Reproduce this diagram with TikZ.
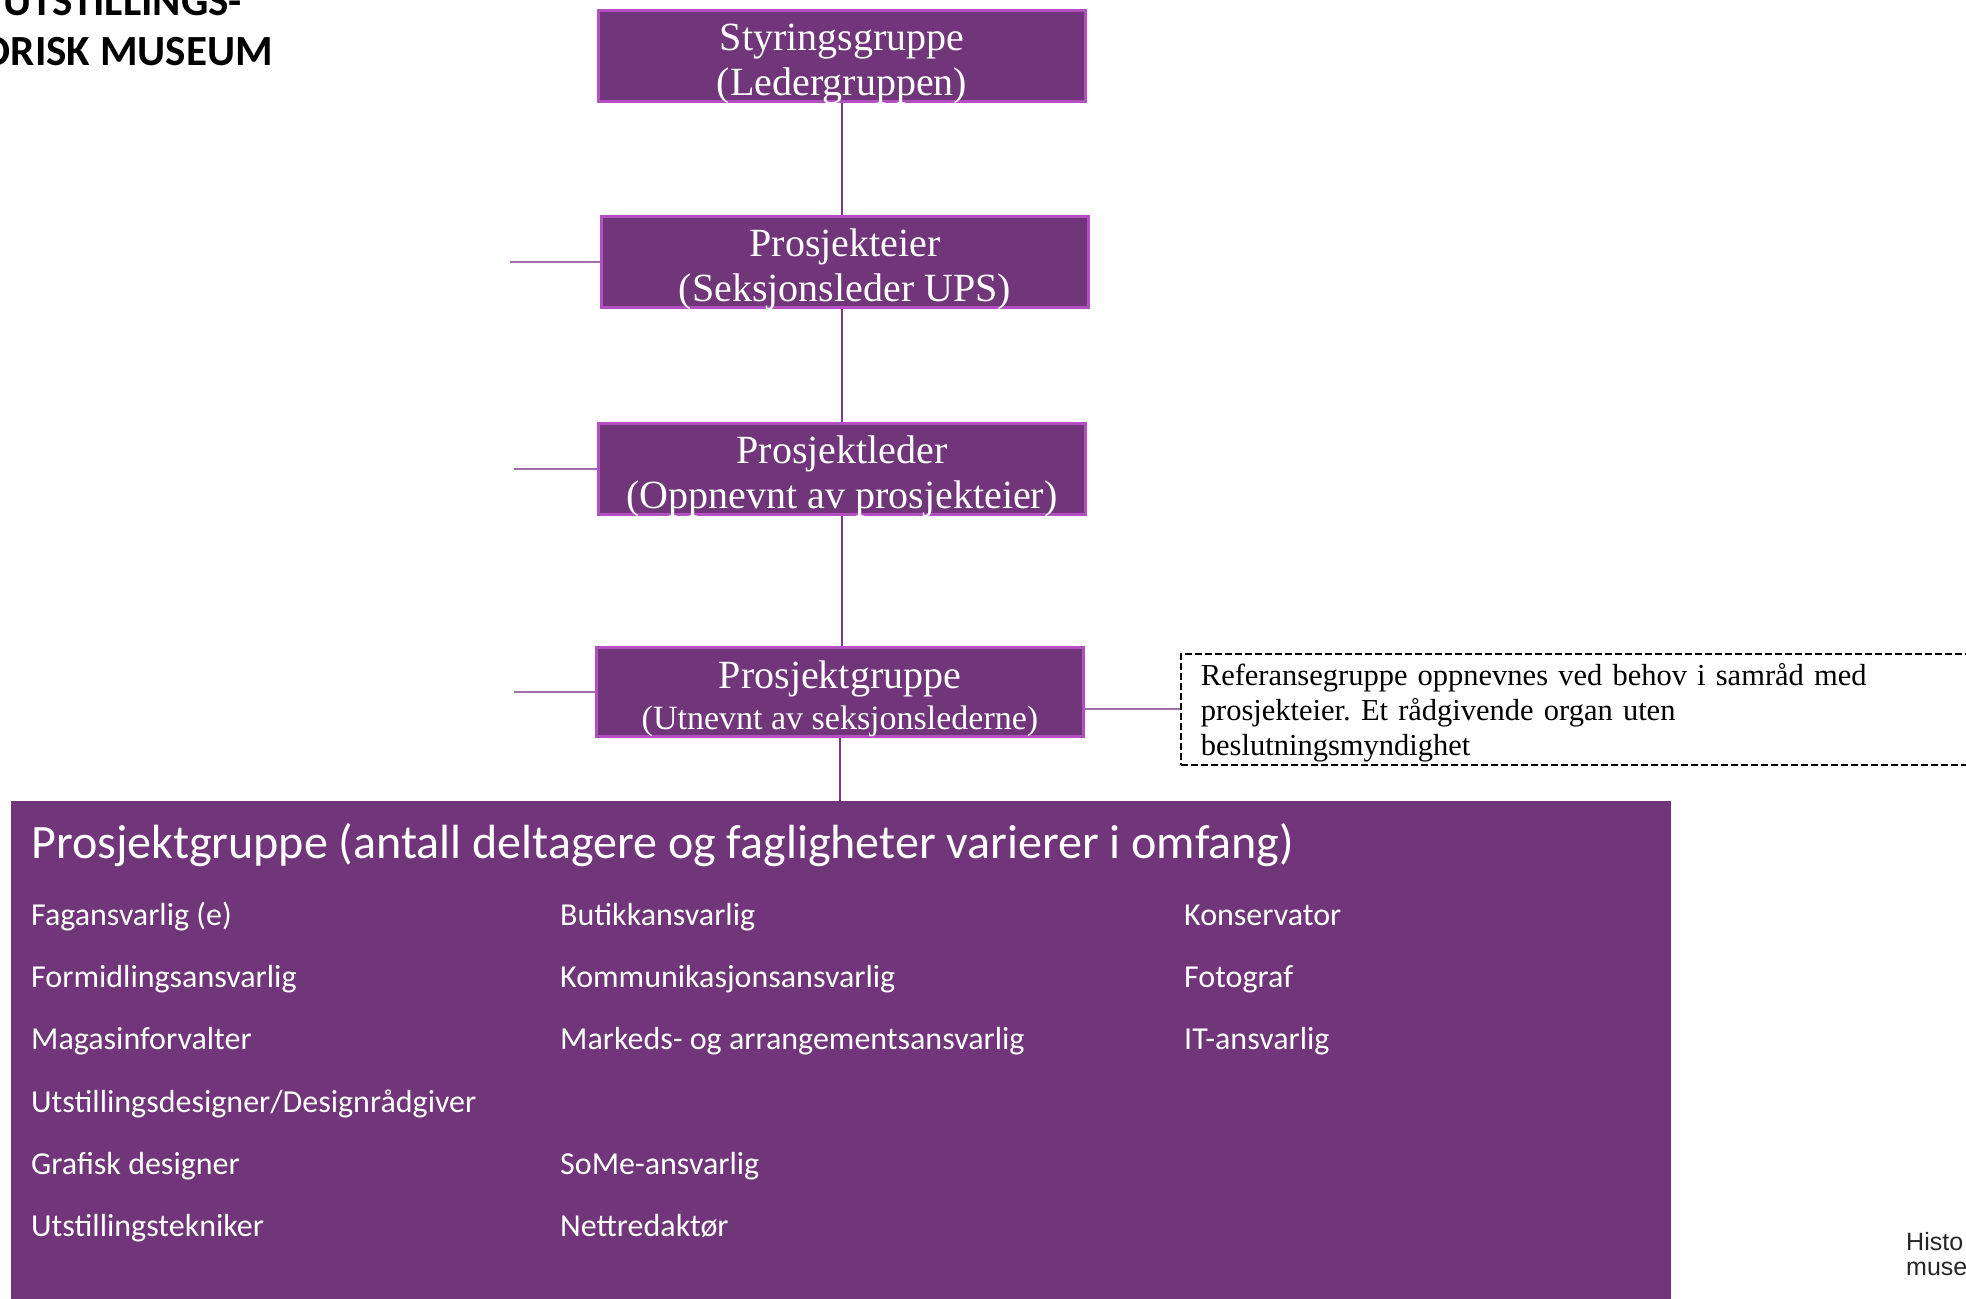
\documentclass[tikz,border=0pt]{standalone}
\usepackage{fontspec}
\setmainfont{Liberation Serif}
\newfontfamily\calfont{Carlito}
\newfontfamily\helvfont{Liberation Sans}
\definecolor{lilla}{HTML}{71357A}
\definecolor{lillakant}{HTML}{B44FC2}
\definecolor{strek}{HTML}{7A3D84}
\definecolor{stubbfarge}{HTML}{A070A8}
\newcommand{\opp}{\rule{0pt}{33pt}}
\newcommand{\nede}[1]{\raisebox{0pt}[\height][0pt]{#1}}
\frenchspacing

\begin{document}
\begin{tikzpicture}[x=1pt,y=-1pt]
    \tikzstyle{boks}=[rectangle,draw=lillakant,line width=2.5pt,fill=lilla,text=white,align=center,
        minimum width=487pt,minimum height=91pt,inner sep=0pt,font=\fontsize{40}{45}\selectfont]
    \tikzstyle{linje}=[draw=strek,line width=2pt]
    \tikzstyle{sidelinje}=[draw=stubbfarge,line width=2pt]
    \tikzstyle{punkt}=[anchor=base west,text=white,inner sep=0pt,font=\calfont\fontsize{32}{38}\selectfont]

    \useasboundingbox (0,0) rectangle (1966,1299);
    \clip (0,0) rectangle (1966,1299);

    % title, cut off at the page edge
    \node[anchor=base east,inner sep=0pt,font=\calfont\bfseries\fontsize{43}{52}\selectfont] (T-1) at (242,15) {UTSTILLINGS-};
    \node[anchor=base east,inner sep=0pt,font=\calfont\bfseries\fontsize{43}{52}\selectfont] (T-2) at (273,65) {ORISK MUSEUM};

    \node[boks] (SG) at (842,56) {\opp Styringsgruppe\\\nede{(Ledergruppen)}};
    \node[boks] (PE) at (845,262) {\opp Prosjekteier\\\nede{(Seksjonsleder UPS)}};
    \node[boks] (PL) at (842,469) {\opp Prosjektleder\\\nede{(Oppnevnt av prosjekteier)}};
    \node[boks,minimum height=89pt] (PG) at (840,692) {\opp Prosjektgruppe\\[-4pt]\nede{\fontsize{34}{40}\selectfont(Utnevnt av seksjonslederne)}};

    \draw[linje] (SG.south) -- (SG.south |- PE.north);
    \draw[linje] (PL.north |- PE.south) -- (PL.north);
    \draw[linje] (PL.south) -- (PL.south |- PG.north);

    \foreach \boks/\x in {PE/510, PL/514, PG/514} {
        \coordinate (S-\boks) at (\x,0 |- \boks.west);
        \draw[sidelinje] (\boks.west) -- (S-\boks);
    }

    % referansegruppe
    \node[draw=black,line width=1.8pt,dash pattern=on 7pt off 3pt,anchor=north west,align=left,
        minimum width=820pt,minimum height=111pt,text width=780pt,inner xsep=19pt,inner ysep=2pt,
        font=\fontsize{30.5}{35}\selectfont] (REF) at (1180,653)
        {\rule{0pt}{29pt}Referansegruppe oppnevnes ved behov i samråd med\\prosjekteier. Et rådgivende organ uten\\beslutningsmyndighet};
    \draw[sidelinje] (REF.west) -- (REF.west -| PG.east);

    % prosjektgruppen
    \node[rectangle,fill=lilla,anchor=north west,minimum width=1660pt,minimum height=520pt,inner sep=0pt] (STOR) at (11,801) {};
    \draw[linje] (PG.south) -- (PG.south |- STOR.north);
    \node[punkt,font=\calfont\fontsize{48}{56}\selectfont] (TITTEL) at (31,858) {Prosjektgruppe (antall deltagere og fagligheter varierer i omfang)};

    \foreach \x/\y/\tekst in {31/925/Fagansvarlig (e), 31/987/Formidlingsansvarlig, 31/1049/Magasinforvalter,
            31/1112/{Utstillingsdesigner/Designrådgiver}, 31/1174/Grafisk designer, 31/1236/Utstillingstekniker,
            560/925/Butikkansvarlig, 560/987/Kommunikasjonsansvarlig, 560/1049/Markeds- og arrangementsansvarlig,
            560/1174/SoMe-ansvarlig, 560/1236/Nettredaktør,
            1184/925/Konservator, 1184/987/Fotograf, 1184/1049/IT-ansvarlig}
        \node[punkt] (P-\x-\y) at (\x,\y) {\tekst};

    \node[anchor=base west,inner sep=0pt,text=black!85,font=\helvfont\fontsize{25}{27}\selectfont] (H-1) at (1906,1250) {Histo};
    \node[anchor=base west,inner sep=0pt,text=black!85,font=\helvfont\fontsize{25}{27}\selectfont] (H-2) at (1906,1275) {muse};
\end{tikzpicture}
\end{document}
